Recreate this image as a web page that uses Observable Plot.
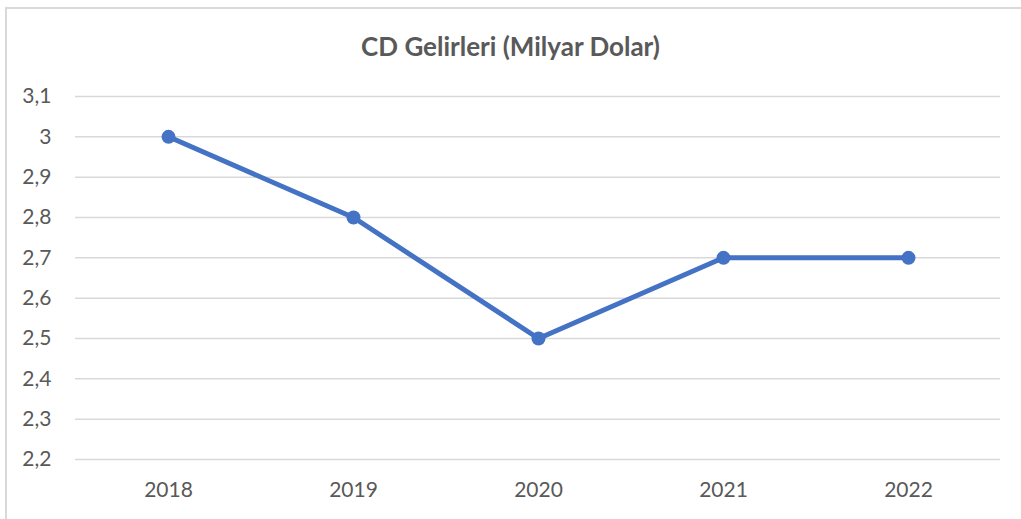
<!DOCTYPE html>
<html>
<head>
<meta charset="utf-8">
<script src="https://cdn.jsdelivr.net/npm/d3@7"></script>
<script src="https://cdn.jsdelivr.net/npm/@observablehq/plot@0.6"></script>
<style>
  html, body { margin: 0; padding: 0; background: #fff; overflow: hidden; }
  #frame { position: absolute; left: 5px; top: 7px; width: 1100px; height: 600px; border: 2px solid #d9d9d9; box-sizing: border-box; pointer-events: none; }
  #title { position: absolute; left: 0; top: 0; width: 1021px; height: 70px; text-align: center; font-family: Lato, sans-serif; font-weight: bold; font-size: 26px; color: #595959; line-height: 92px; }
  #chart { position: absolute; left: 0; top: 70px; }
</style>
</head>
<body>
<div id="title">CD Gelirleri (Milyar Dolar)</div>
<div id="chart"></div>
<div id="frame"></div>
<script>
const years = ["2018", "2019", "2020", "2021", "2022"];
const values = [3.0, 2.8, 2.5, 2.7, 2.7];
const yTicks = [2.2, 2.3, 2.4, 2.5, 2.6, 2.7, 2.8, 2.9, 3.0, 3.1];

const data = years.map((y, i) => ({year: y, value: values[i]}));
const fmt = d => d3.format("~g")(d).replace(".", ",");

const chart = Plot.plot({
  width: 1021,
  height: 449,
  marginTop: 26,
  marginBottom: 60,
  marginLeft: 75,
  marginRight: 21,
  style: { fontFamily: "Lato, sans-serif", fontSize: "21px", color: "#595959", background: "transparent" },
  x: { type: "point", domain: years, padding: 0.5, label: null },
  y: { domain: [2.2, 3.1], label: null },
  marks: [
    Plot.gridY(yTicks, { stroke: "#d9d9d9", strokeOpacity: 1, strokeWidth: 1.5 }),
    Plot.axisY(yTicks, { tickSize: 0, tickPadding: 24, tickFormat: fmt, fill: "#595959", fontSize: 21 }),
    Plot.axisX(years, { tickSize: 0, tickPadding: 23, fill: "#595959", fontSize: 21 }),
    Plot.line(data, { x: "year", y: "value", stroke: "#4472C4", strokeWidth: 5 }),
    Plot.dot(data, { x: "year", y: "value", fill: "#4472C4", r: 7 })
  ]
});
document.getElementById("chart").appendChild(chart);
</script>
</body>
</html>
